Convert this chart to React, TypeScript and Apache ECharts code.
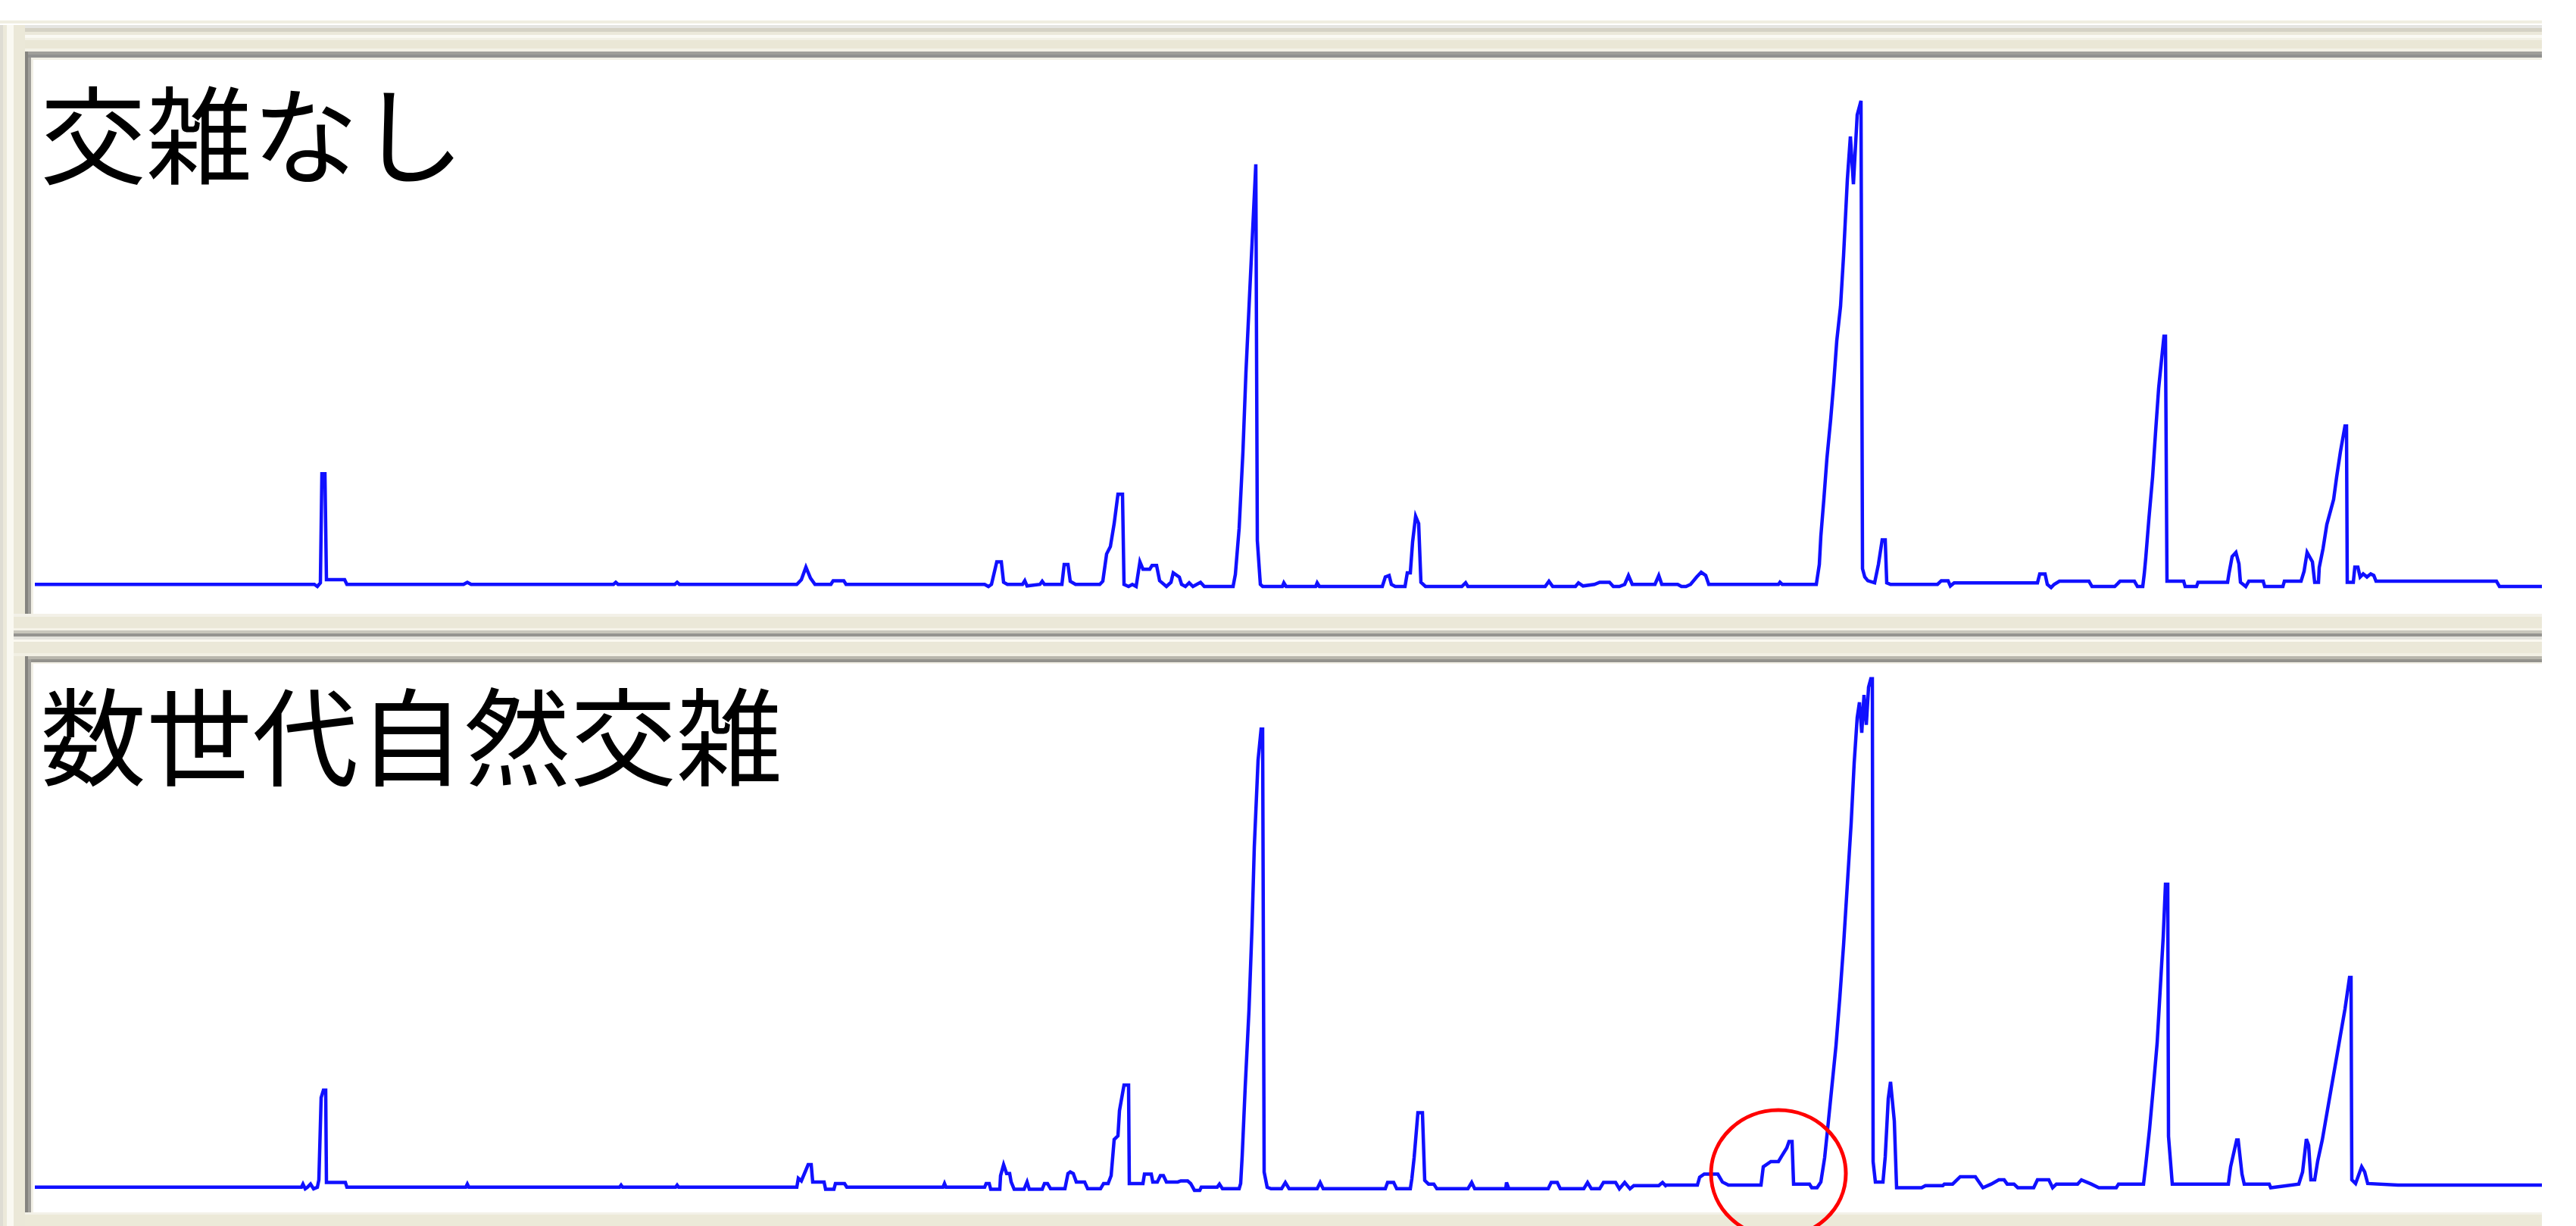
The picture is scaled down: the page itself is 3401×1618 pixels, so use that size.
import React, { useEffect, useRef } from "react";
import * as echarts from "echarts";

// Panel titles
const PANEL_TITLES = ["交雑なし", "数世代自然交雑"];

// Chromatogram traces: [scan index, relative intensity (0-100)]
const topTrace: [number, number][] = [
  [0, 0], [369, 0], [373, -0.4], [377, 0.3], [379, 21.1], [383, 21.1], [385, 0.9], [409, 0.9], [412, 0],
  [566, 0], [571, 0.4], [576, 0], [764, 0], [767, 0.4], [770, 0], [845, 0], [848, 0.4], [851, 0],
  [1006, 0], [1012, 0.9], [1018, 3.3], [1024, 1.2], [1030, 0], [1051, 0], [1054, 0.7], [1068, 0.7], [1071, 0],
  [1254, 0], [1259, -0.4], [1263, 0], [1270, 4.3], [1276, 4.3], [1279, 0.4], [1284, 0], [1304, 0], [1307, 0.7],
  [1310, -0.3], [1327, 0], [1330, 0.6], [1333, 0], [1356, 0], [1359, 3.8], [1364, 3.8], [1367, 0.6], [1374, 0],
  [1406, 0], [1410, 0.6], [1415, 5.8], [1420, 7.2], [1425, 11.6], [1430, 17.2], [1436, 17.2], [1438, 0],
  [1444, -0.4], [1449, 0], [1454, -0.4], [1459, 4.3], [1463, 2.9], [1472, 2.9], [1475, 3.6], [1481, 3.6],
  [1485, 0.7], [1494, -0.4], [1500, 0.4], [1503, 2.2], [1511, 1.4], [1514, 0], [1519, -0.4], [1524, 0.3],
  [1529, -0.4], [1539, 0.4], [1544, -0.4], [1582, -0.4], [1585, 1.9], [1590, 10.7], [1595, 25.3], [1599, 40.5],
  [1604, 55.8], [1609, 71.0], [1612, 80.1], [1614, 8.4], [1618, 0], [1621, -0.4], [1647, -0.4], [1649, 0.3],
  [1652, -0.4], [1691, -0.4], [1693, 0.3], [1696, -0.4], [1779, -0.4], [1783, 1.4], [1788, 1.7], [1791, 0],
  [1796, -0.4], [1809, -0.4], [1812, 2.2], [1816, 2.2], [1819, 8.1], [1823, 13.0], [1827, 11.6], [1830, 0.4],
  [1836, -0.4], [1884, -0.4], [1889, 0.3], [1892, -0.4], [1994, -0.4], [1999, 0.6], [2004, -0.4], [2034, -0.4],
  [2038, 0.3], [2044, -0.3], [2059, 0], [2066, 0.4], [2079, 0.4], [2084, -0.4], [2092, -0.4], [2099, 0],
  [2104, 1.7], [2109, 0], [2139, 0], [2144, 1.7], [2148, 0], [2169, 0], [2174, -0.4], [2180, -0.4], [2186, 0],
  [2194, 1.4], [2200, 2.3], [2206, 1.7], [2210, 0], [2302, 0], [2304, 0.4], [2307, 0], [2352, 0], [2356, 3.8],
  [2358, 9.2], [2362, 16.3], [2366, 24.0], [2371, 31.5], [2375, 38.4], [2379, 46.4], [2384, 53.0], [2388, 62.7],
  [2393, 77.2], [2397, 85.4], [2401, 76.3], [2406, 89.5], [2411, 92.2], [2413, 3.0], [2416, 1.4], [2420, 0.7],
  [2429, 0.3], [2434, 3.8], [2439, 8.5], [2443, 8.5], [2445, 0.3], [2450, 0], [2512, 0], [2517, 0.7], [2526, 0.7],
  [2529, -0.3], [2534, 0.3], [2644, 0.3], [2647, 2.0], [2654, 2.0], [2657, 0], [2662, -0.6], [2666, 0],
  [2673, 0.6], [2712, 0.6], [2716, -0.4], [2746, -0.4], [2753, 0.6], [2772, 0.6], [2776, -0.4], [2783, -0.4],
  [2785, 2.0], [2787, 5.1], [2791, 12.3], [2796, 20.5], [2800, 29.2], [2804, 37.4], [2811, 47.3], [2813, 47.3],
  [2815, 0.6], [2837, 0.6], [2839, -0.4], [2854, -0.4], [2856, 0.4], [2895, 0.4], [2897, 2.2], [2901, 5.3],
  [2906, 6.1], [2910, 3.9], [2912, 0.4], [2919, -0.4], [2923, 0.6], [2942, 0.6], [2944, -0.4], [2968, -0.4],
  [2970, 0.6], [2992, 0.6], [2996, 2.5], [3000, 6.1], [3007, 4.3], [3010, 0.4], [3015, 0.4], [3016, 3.2],
  [3021, 6.8], [3026, 11.4], [3035, 16.2], [3039, 20.5], [3044, 25.3], [3050, 30.2], [3052, 30.2], [3053, 0.4],
  [3061, 0.4], [3063, 3.3], [3067, 3.3], [3070, 1.4], [3074, 2.0], [3079, 1.4], [3084, 2.0], [3088, 1.7],
  [3091, 0.6], [3250, 0.6], [3254, -0.4], [3310, -0.4],
];

const bottomTrace: [number, number][] = [
  [0, 0], [352, 0], [354, 0.6], [357, -0.3], [360, 0], [364, 0.6], [368, -0.3], [373, 0], [375, 1.4],
  [378, 17.1], [381, 18.5], [384, 18.5], [385, 0.9], [410, 0.9], [412, 0], [569, 0], [571, 0.6], [573, 0],
  [772, 0], [774, 0.4], [776, 0], [846, 0], [848, 0.4], [850, 0], [1006, 0], [1008, 1.7], [1012, 1.2],
  [1021, 4.3], [1025, 4.3], [1027, 1.0], [1042, 1.0], [1044, -0.4], [1055, -0.4], [1057, 0.7], [1069, 0.7],
  [1072, 0], [1199, 0], [1201, 0.7], [1203, 0], [1254, 0], [1256, 0.7], [1260, 0.7], [1262, -0.4], [1274, -0.4],
  [1275, 2.2], [1279, 4.3], [1283, 2.6], [1287, 2.6], [1289, 1.0], [1293, -0.4], [1306, -0.4], [1310, 1.0],
  [1313, -0.4], [1330, -0.4], [1333, 0.7], [1337, 0.7], [1341, -0.3], [1360, -0.3], [1364, 2.6], [1367, 2.9],
  [1371, 2.6], [1375, 1.0], [1386, 1.0], [1390, -0.3], [1407, -0.3], [1411, 0.7], [1417, 0.7], [1421, 2.2],
  [1425, 9.1], [1430, 9.8], [1432, 14.6], [1438, 19.5], [1444, 19.5], [1445, 0.7], [1463, 0.7], [1465, 2.5],
  [1474, 2.5], [1476, 1.0], [1482, 1.0], [1486, 2.2], [1490, 2.2], [1494, 1.0], [1509, 1.0], [1513, 1.2],
  [1522, 1.2], [1526, 0.7], [1531, -0.6], [1538, -0.6], [1540, 0], [1561, 0], [1564, 0.6], [1568, -0.3],
  [1590, -0.3], [1592, 0.7], [1594, 5.9], [1598, 19.1], [1603, 33.8], [1607, 49.6], [1610, 64.9], [1615, 81.5],
  [1619, 87.4], [1621, 87.4], [1623, 2.9], [1627, 0], [1632, -0.3], [1646, -0.3], [1651, 0.9], [1656, -0.3],
  [1693, -0.3], [1697, 0.9], [1701, -0.3], [1783, -0.3], [1786, 0.9], [1794, 0.9], [1798, -0.3], [1816, -0.3],
  [1818, 1.6], [1821, 5.6], [1826, 14.2], [1832, 14.2], [1835, 1.3], [1840, 0.6], [1847, 0.6], [1851, -0.3],
  [1892, -0.3], [1897, 0.9], [1901, -0.3], [1942, -0.3], [1943, 0.9], [1946, -0.3], [1998, -0.3], [2002, 0.9],
  [2010, 0.9], [2014, -0.3], [2045, -0.3], [2050, 0.9], [2055, -0.3], [2066, -0.3], [2071, 0.9], [2087, 0.9],
  [2092, -0.3], [2099, 0.9], [2106, -0.3], [2111, 0.3], [2144, 0.3], [2149, 0.9], [2153, 0.3], [2154, 0.4],
  [2195, 0.4], [2198, 1.9], [2204, 2.5], [2222, 2.5], [2228, 1.0], [2236, 0.4], [2279, 0.4], [2282, 3.9],
  [2292, 4.9], [2302, 4.9], [2307, 6.1], [2313, 7.5], [2316, 8.7], [2320, 8.7], [2322, 0.6], [2343, 0.6],
  [2346, -0.1], [2353, -0.1], [2358, 1.0], [2363, 5.6], [2368, 12.6], [2373, 19.8], [2378, 27.0], [2383, 36.1],
  [2388, 46.2], [2393, 57.8], [2398, 69.4], [2402, 80.9], [2406, 89.6], [2409, 92.5], [2412, 86.7], [2415, 93.9],
  [2418, 88.2], [2421, 95.4], [2424, 97.0], [2426, 97.0], [2427, 4.9], [2430, 1.0], [2440, 1.0], [2443, 5.8],
  [2447, 16.9], [2450, 20.1], [2455, 12.6], [2458, -0.1], [2491, -0.1], [2496, 0.3], [2519, 0.3], [2521, 0.6],
  [2532, 0.6], [2542, 2.0], [2562, 2.0], [2572, -0.1], [2583, 0.6], [2593, 1.4], [2600, 1.4], [2604, 0.6],
  [2613, 0.6], [2618, -0.1], [2639, -0.1], [2644, 1.4], [2659, 1.4], [2664, -0.1], [2669, 0.6], [2697, 0.6],
  [2702, 1.4], [2715, 0.6], [2725, -0.1], [2748, -0.1], [2751, 0.6], [2784, 0.6], [2787, 4.3], [2792, 11.1],
  [2797, 19.1], [2802, 27.5], [2806, 37.6], [2810, 47.7], [2813, 57.8], [2816, 57.8], [2817, 9.7], [2822, 0.6],
  [2896, 0.6], [2899, 3.9], [2907, 9.0], [2909, 9.0], [2914, 2.5], [2917, 0.6], [2950, 0.6], [2952, -0.1],
  [2989, 0.6], [2994, 2.9], [2999, 9.2], [3002, 8.0], [3005, 1.4], [3010, 1.4], [3014, 5.0], [3020, 9.0],
  [3026, 14.0], [3032, 19.0], [3038, 24.0], [3044, 29.0], [3050, 34.0], [3054, 38.0], [3056, 40.0], [3058, 40.0],
  [3059, 1.4], [3064, 0.7], [3072, 3.9], [3076, 2.9], [3080, 0.7], [3120, 0.4], [3310, 0.4],
];

// Axis ranges
const SCAN_MIN = 0;
const SCAN_MAX = 3310;
const Y_MAX = 100;
const Y_MIN_TOP = -5.6;
const Y_MIN_BOTTOM = -4.8;

// Highlighted region (red circle) in the lower trace, data space
const CIRCLE_SCAN_FROM = 2213;
const CIRCLE_SCAN_TO = 2391;
const CIRCLE_INT_TOP = 14.7;
const CIRCLE_INT_CENTER = 2.6;

// ---- layout / chrome (window-like frame) ----
const W = 3401;
const H = 1618;
const FRAME_R = 3356;
const BEIGE = "#ECE9D8";

const topBands: [number, number, string][] = [
  [27, 4, "#F0EEE2"], [31, 2, "#FFFFFF"], [33, 4, "#E5E5E2"], [37, 5, "#D5D2C5"], [42, 4, "#EBE8DA"],
  [46, 4, "#FAF9F3"], [50, 3, "#F2F0E5"], [53, 11, "#EAE7D6"], [64, 4, "#F3F1E6"],
];
const leftStrips: [number, number, string][] = [
  [0, 4, "#DEDCD3"], [4, 5, "#ECE9DA"], [9, 9, "#FAF9F2"], [18, 15, "#EBE8D8"],
];
const midBands: [number, number, string][] = [
  [810, 4, "#F3F1E8"], [814, 15, "#EBE8D8"], [829, 3, "#F5F3E8"], [832, 4, "#C8C6BC"], [836, 4, "#959490"],
  [840, 4, "#E4E3DD"], [844, 3, "#FAF8F0"], [847, 15, "#EBE8D8"], [862, 4, "#F2F0E4"],
];

function rect(x: number, y: number, w: number, h: number, fill: string, z = -10) {
  return { type: "rect", shape: { x, y, width: w, height: h }, style: { fill }, z, silent: true };
}

function chrome(): any[] {
  const els: any[] = [];
  els.push(rect(0, 27, FRAME_R, H - 27, BEIGE, -20));
  topBands.forEach(([y, h, c]) => els.push(rect(0, y, FRAME_R, h, c, -19)));
  leftStrips.forEach(([x, w, c]) => els.push(rect(x, 33, w, H - 33, c, -19)));
  midBands.forEach(([y, h, c]) => els.push(rect(18, y, FRAME_R - 18, h, c, -19)));
  // upper panel
  els.push(rect(33, 68, FRAME_R - 33, 742, "#A09F9A", -18));
  els.push(rect(33, 68, 4, 742, "#85847F", -17));
  els.push(rect(37, 72, FRAME_R - 37, 4, "#919190", -17));
  els.push(rect(41, 76, FRAME_R - 41, 734, "#F2F0E6", -16));
  els.push(rect(44, 79, FRAME_R - 44, 731, "#FFFFFF", -15));
  // lower panel
  els.push(rect(33, 866, FRAME_R - 33, 734, "#B8B6AC", -18));
  els.push(rect(33, 870, FRAME_R - 33, 4, "#93928D", -17));
  els.push(rect(33, 866, 4, 734, "#85847F", -17));
  els.push(rect(37, 870, 4, 730, "#A09F9A", -17));
  els.push(rect(41, 874, FRAME_R - 41, 726, "#F2F0E6", -16));
  els.push(rect(44, 876, FRAME_R - 44, 724, "#FFFFFF", -15));
  els.push(rect(33, 1600, FRAME_R - 33, 3, "#F3F1E8", -15));
  return els;
}

function titles(): any[] {
  const ys = [171, 965];
  return PANEL_TITLES.map((t, i) => ({
    type: "text",
    x: 53,
    y: ys[i],
    z: 50,
    silent: true,
    style: {
      text: t,
      fill: "#000000",
      font: '140px "Noto Sans CJK JP", sans-serif',
      textAlign: "left",
      textVerticalAlign: "middle",
    },
  }));
}

export default function App() {
  const ref = useRef<HTMLDivElement>(null);

  useEffect(() => {
    if (!ref.current) return;
    const chart = echarts.init(ref.current, null, { renderer: "svg", width: W, height: H });

    const lineStyle = { color: "#1010FF", width: 4.5, join: "miter" };
    const baseOption: any = {
      animation: false,
      backgroundColor: "#FFFFFF",
      grid: [
        { left: 46, top: 79, width: SCAN_MAX - SCAN_MIN, height: 731, containLabel: false },
        { left: 46, top: 875, width: SCAN_MAX - SCAN_MIN, height: 725, containLabel: false },
      ],
      xAxis: [
        { type: "value", gridIndex: 0, min: SCAN_MIN, max: SCAN_MAX, show: false },
        { type: "value", gridIndex: 1, min: SCAN_MIN, max: SCAN_MAX, show: false },
      ],
      yAxis: [
        { type: "value", gridIndex: 0, min: Y_MIN_TOP, max: Y_MAX, show: false, splitLine: { show: false } },
        { type: "value", gridIndex: 1, min: Y_MIN_BOTTOM, max: Y_MAX, show: false, splitLine: { show: false } },
      ],
      series: [
        {
          type: "line",
          xAxisIndex: 0,
          yAxisIndex: 0,
          data: topTrace,
          showSymbol: false,
          symbol: "none",
          silent: true,
          lineStyle,
          z: 5,
        },
        {
          type: "line",
          xAxisIndex: 1,
          yAxisIndex: 1,
          data: bottomTrace,
          showSymbol: false,
          symbol: "none",
          silent: true,
          lineStyle,
          z: 5,
        },
      ],
      graphic: { elements: [...chrome(), ...titles()] },
    };
    chart.setOption(baseOption);

    const p1 = chart.convertToPixel({ gridIndex: 1 } as any, [CIRCLE_SCAN_FROM, CIRCLE_INT_CENTER]) as number[];
    const p2 = chart.convertToPixel({ gridIndex: 1 } as any, [CIRCLE_SCAN_TO, CIRCLE_INT_TOP]) as number[];
    const cx = (p1[0] + p2[0]) / 2;
    const rx = (p2[0] - p1[0]) / 2;
    const ry = p1[1] - p2[1];

    chart.setOption({
      graphic: {
        elements: [
          ...chrome(),
          ...titles(),
          {
            type: "ellipse",
            z: 60,
            silent: true,
            shape: { cx, cy: p1[1], rx, ry },
            style: { fill: "none", stroke: "#FF0000", lineWidth: 5 },
          },
        ],
      },
    });

    return () => chart.dispose();
  }, []);

  return (
    <div
      ref={ref}
      style={{ position: "absolute", left: 0, top: 0, width: W, height: H, background: "#FFFFFF" }}
    />
  );
}
